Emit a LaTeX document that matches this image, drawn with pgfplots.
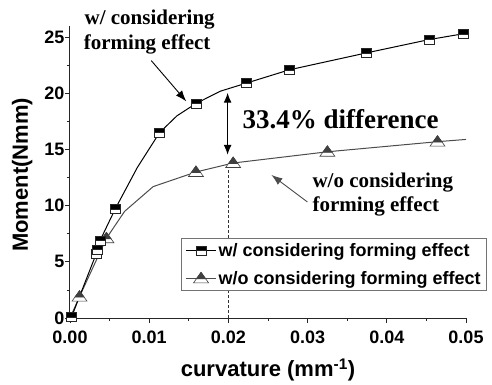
\documentclass[border=0pt]{standalone}
\usepackage{fontspec}
\setmainfont{Liberation Sans}
\newfontfamily\tnr{Liberation Serif}
\usepackage{pgfplots}
\pgfplotsset{compat=1.18}
\usetikzlibrary{arrows.meta}

\pgfdeclareplotmark{hsq}{%
 \pgfpathrectangle{\pgfqpoint{-\pgfplotmarksize}{-0.9\pgfplotmarksize}}{\pgfqpoint{2\pgfplotmarksize}{1.8\pgfplotmarksize}}%
 \pgfsetfillcolor{white}\pgfusepath{fill,stroke}%
 \pgfpathrectangle{\pgfqpoint{-\pgfplotmarksize}{0pt}}{\pgfqpoint{2\pgfplotmarksize}{0.9\pgfplotmarksize}}%
 \pgfsetfillcolor{black}\pgfusepath{fill,stroke}%
}
\pgfdeclareplotmark{htri}{%
 \pgfpathmoveto{\pgfqpoint{-1.5\pgfplotmarksize}{-0.9\pgfplotmarksize}}%
 \pgfpathlineto{\pgfqpoint{1.5\pgfplotmarksize}{-0.9\pgfplotmarksize}}%
 \pgfpathlineto{\pgfqpoint{0pt}{1.2\pgfplotmarksize}}%
 \pgfpathclose
 \pgfsetfillcolor{white}\pgfusepath{fill,stroke}%
 \pgfpathmoveto{\pgfqpoint{-0.93\pgfplotmarksize}{-0.1\pgfplotmarksize}}%
 \pgfpathlineto{\pgfqpoint{0.93\pgfplotmarksize}{-0.1\pgfplotmarksize}}%
 \pgfpathlineto{\pgfqpoint{0pt}{1.2\pgfplotmarksize}}%
 \pgfpathclose
 \pgfsetfillcolor{black!75}\pgfusepath{fill,stroke}%
}

\pgfplotstableread{
x y
0.0002 0.1
0.0033 5.7
0.0035 6.1
0.0038 6.9
0.0057 9.7
0.0085 13.4
0.0113 16.5
0.0135 18.0
0.0159 19.1
0.0190 20.2
0.0222 20.9
0.0277 22.1
0.0374 23.6
0.0454 24.8
0.0496 25.3
}\withdata

\pgfplotstableread{
x y
0.0000 0.0
0.0012 1.9
0.0046 7.1
0.0069 9.5
0.0105 11.7
0.0159 13.0
0.0206 13.8
0.0325 14.8
0.0464 15.7
0.0500 15.9
}\withoutdata

\begin{document}
\begin{tikzpicture}
\useasboundingbox (-70pt,-66pt) rectangle (422pt,318pt);
\begin{axis}[
  at={(0pt,0pt)}, anchor=south west,
  scale only axis,
  width=396pt, height=292pt,
  xmin=0, xmax=0.05, ymin=0, ymax=26,
  clip=false,
  axis x line*=bottom, axis y line*=left,
  axis line style={-, line width=1pt, black!85},
  tick align=outside,
  major tick length=5pt, minor tick length=3pt,
  every tick/.style={black!85, line width=0.8pt},
  xtick={0,0.01,0.02,0.03,0.04,0.05},
  minor xtick={0.005,0.015,0.025,0.035,0.045},
  ytick={0,5,10,15,20,25},
  minor ytick={2.5,7.5,12.5,17.5,22.5},
  scaled x ticks=false,
  xticklabel style={yshift=-4pt, /pgf/number format/fixed, /pgf/number format/fixed zerofill, /pgf/number format/precision=2},
  yticklabel style={xshift=3pt},
  /pgf/number format/assume math mode=true,
  tick label style={font=\fontsize{18}{20}\selectfont\bfseries},
  xlabel={curvature (mm\textsuperscript{-1})},
  ylabel={Moment(Nmm)},
  label style={font=\fontsize{22}{24}\selectfont\bfseries},
  xlabel style={at={(axis description cs:0.5,-0.178)}, anchor=center},
  ylabel style={at={(axis description cs:-0.121,0.49)}, anchor=center},
  legend style={at={(1.053,0.0925)}, anchor=south east, draw=black!55, line width=0.8pt,
    fill=white, font=\fontsize{18}{20}\selectfont\bfseries, inner xsep=4pt, inner ysep=3pt,
    row sep=9pt},
  legend cell align=left,
  legend image code/.code={\draw[mark repeat=2,mark phase=2,#1] plot coordinates {(0pt,0pt)(15pt,0pt)(30pt,0pt)};},
]
\addplot[forget plot, black!80, line width=0.9pt, dash pattern=on 3pt off 2pt] coordinates {(0.02,0) (0.02,13.5)};
\addplot[forget plot, black!70, line width=1pt, mark=htri, mark size=5pt,
  mark options={solid, line width=0.6pt, draw=black!75}, mark indices={2,3,6,7,8,9}] table[x=x,y=y] {\withoutdata};
\addplot[forget plot, black, line width=1pt, mark=hsq, mark size=5pt,
  mark options={solid, line width=0.6pt, draw=black!85}, mark indices={1,2,3,4,5,7,9,11,12,13,14,15}] table[x=x,y=y] {\withdata};
\addlegendimage{black, line width=1pt, mark=hsq, mark size=5pt, mark options={solid, line width=0.6pt, draw=black!85}}
\addlegendentry{w/ considering forming effect}
\addlegendimage{black!70, line width=1pt, mark=htri, mark size=5pt, mark options={solid, line width=0.6pt, draw=black!75}}
\addlegendentry{w/o considering forming effect}

\node[font=\tnr\bfseries\fontsize{21}{25}\selectfont, anchor=base, inner sep=0pt] at (axis cs:0.01006,26.13) {w/ considering};
\node[font=\tnr\bfseries\fontsize{21}{25}\selectfont, anchor=base, inner sep=0pt] at (axis cs:0.00974,23.9) {forming effect};
\node[font=\tnr\bfseries\fontsize{27}{30}\selectfont, anchor=base west, inner sep=0pt] at (axis cs:0.02178,16.91) {33.4\% difference};
\node[font=\tnr\bfseries\fontsize{21}{25}\selectfont, anchor=base west, inner sep=0pt] at (axis cs:0.0306,11.58) {w/o considering};
\node[font=\tnr\bfseries\fontsize{21}{25}\selectfont, anchor=base west, inner sep=0pt] at (axis cs:0.0306,9.44) {forming effect};

\draw[-{Latex[length=11pt,width=8pt]}, line width=0.9pt, black] (axis cs:0.01026,22.92) -- (axis cs:0.01468,19.29);
\draw[{Latex[length=10pt,width=8pt]}-{Latex[length=10pt,width=8pt]}, line width=1.3pt, black] (axis cs:0.0199,20.06) -- (axis cs:0.0199,14.53);
\draw[-{Latex[length=11pt,width=8pt]}, line width=0.9pt, black!70] (axis cs:0.02998,10.33) -- (axis cs:0.02543,12.74);
\end{axis}
\end{tikzpicture}
\end{document}
